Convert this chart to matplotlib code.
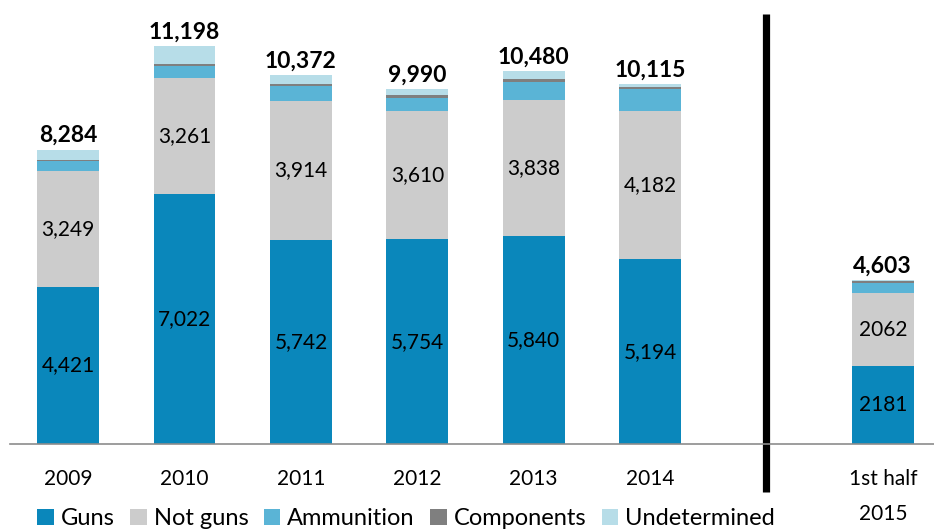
import matplotlib
matplotlib.use("Agg")
import matplotlib.pyplot as plt
from matplotlib.patches import Patch
import matplotlib.patheffects as pe

plt.rcParams['font.family'] = ['Lato', 'DejaVu Sans']

categories = ["2009", "2010", "2011", "2012", "2013", "2014", "1st half\n2015"]
positions = [0, 1, 2, 3, 4, 5, 7]
guns = [4421, 7022, 5742, 5754, 5840, 5194, 2181]
not_guns = [3249, 3261, 3914, 3610, 3838, 4182, 2062]
ammunition = [289, 355, 421, 383, 497, 606, 280]
components = [40, 55, 45, 65, 80, 65, 50]
undetermined = [285, 505, 250, 178, 225, 68, 30]
totals = [8284, 11198, 10372, 9990, 10480, 10115, 4603]
guns_labels = ["4,421", "7,022", "5,742", "5,754", "5,840", "5,194", "2181"]
not_guns_labels = ["3,249", "3,261", "3,914", "3,610", "3,838", "4,182", "2062"]

series = [
    ("Guns", guns, "#0A87BB"),
    ("Not guns", not_guns, "#CCCCCC"),
    ("Ammunition", ammunition, "#5AB4D6"),
    ("Components", components, "#7F7F7F"),
    ("Undetermined", undetermined, "#B7DDE8"),
]

fig = plt.figure(figsize=(9.34, 5.32), dpi=100)
ax = fig.add_axes([10 / 934, 88 / 532, 924 / 934, 444 / 532])

bottom = [0] * len(positions)
for name, vals, color in series:
    ax.bar(positions, vals, width=0.53, bottom=bottom, color=color, label=name)
    bottom = [b + v for b, v in zip(bottom, vals)]

for x, g, n, gl, nl, t in zip(positions, guns, not_guns, guns_labels, not_guns_labels, totals):
    ax.text(x, g / 2, gl, ha="center", va="center", fontsize=15, color="black")
    ax.text(x, g + n / 2, nl, ha="center", va="center", fontsize=15, color="black")
    ax.text(x, t + 100, f"{t:,}", ha="center", va="bottom", fontsize=16.5,
            fontweight="bold", color="black")

ax.set_xlim(-0.5, 7.44)
ax.set_ylim(0, 12490)
ax.set_xticks(positions)
ax.set_xticklabels(categories, fontsize=15, va="top", linespacing=1.95)
ax.tick_params(axis="x", length=0, pad=18)
ax.set_yticks([])
for s in ["top", "right", "left"]:
    ax.spines[s].set_visible(False)
ax.spines["bottom"].set_color("#8C8C8C")
ax.spines["bottom"].set_linewidth(1.2)

# divider between full years and the half year
ax.plot([6, 6], [-1350, 12100], color="black", lw=5.2, clip_on=False,
        solid_capstyle="butt",
        path_effects=[pe.SimplePatchShadow(offset=(1.5, -1.5), alpha=0.3), pe.Normal()])

handles = [Patch(facecolor=c, edgecolor="none") for _, _, c in series]
fig.legend(handles, [n for n, _, _ in series], loc="lower left",
           bbox_to_anchor=(16 / 934, -0.035), ncol=5, frameon=False, fontsize=17,
           handlelength=0.7, handleheight=0.7, handletextpad=0.3, columnspacing=0.65)

fig.savefig("out.png", dpi=100)
